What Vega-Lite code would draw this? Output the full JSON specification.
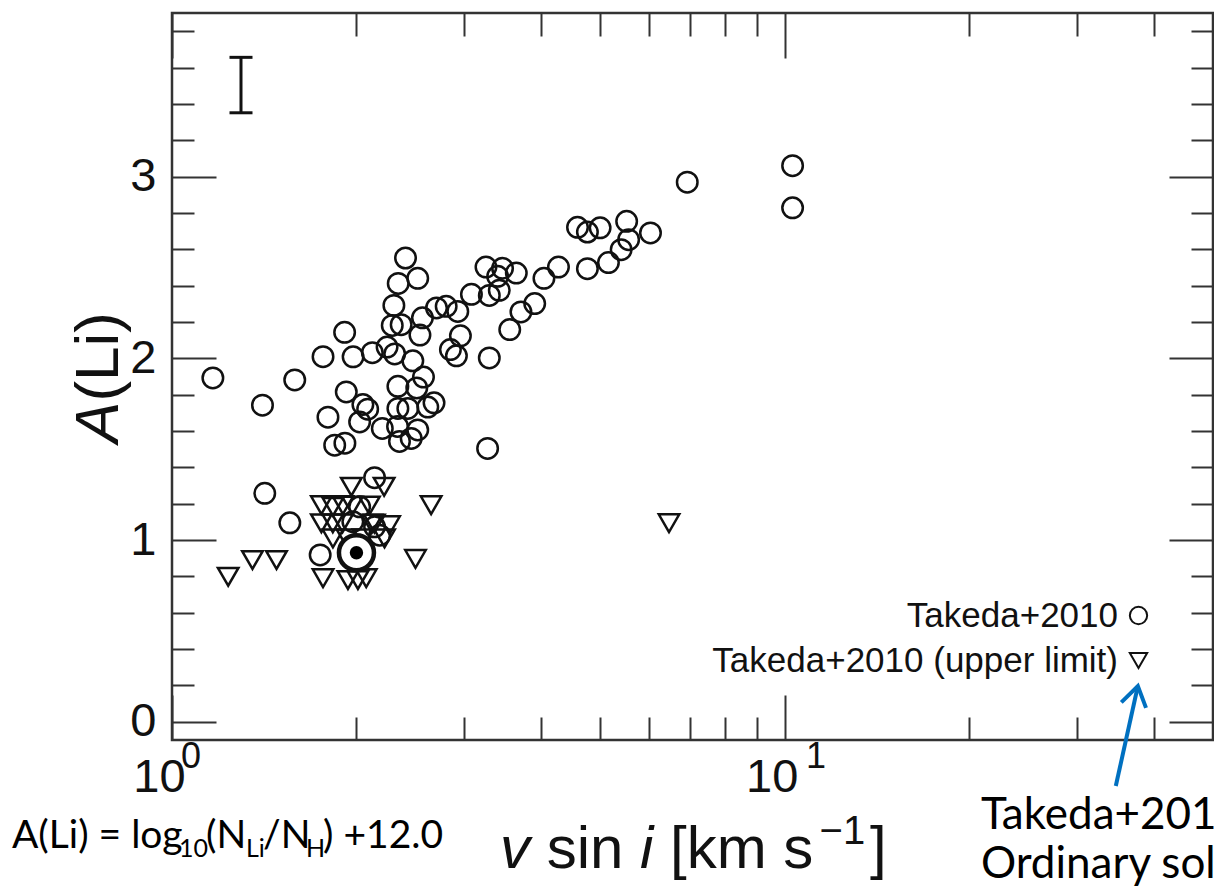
{
  "$schema": "https://vega.github.io/schema/vega-lite/v6.json",
  "width": 1041,
  "height": 727,
  "autosize": {"type": "none"},
  "padding": {"left": 172, "top": 13, "right": 1, "bottom": 146},
  "background": "white",
  "config": {
    "view": {"stroke": "#333", "strokeWidth": 2.5},
    "axis": {"grid": false, "domain": false}
  },
  "datasets": {
    "stars": [
      {"v": 1.166, "a": 1.892, "type": "Takeda+2010"},
      {"v": 1.405, "a": 1.742, "type": "Takeda+2010"},
      {"v": 1.586, "a": 1.881, "type": "Takeda+2010"},
      {"v": 1.417, "a": 1.257, "type": "Takeda+2010"},
      {"v": 1.557, "a": 1.095, "type": "Takeda+2010"},
      {"v": 1.764, "a": 2.009, "type": "Takeda+2010"},
      {"v": 1.913, "a": 2.143, "type": "Takeda+2010"},
      {"v": 1.797, "a": 1.676, "type": "Takeda+2010"},
      {"v": 1.843, "a": 1.522, "type": "Takeda+2010"},
      {"v": 1.915, "a": 1.533, "type": "Takeda+2010"},
      {"v": 1.925, "a": 1.815, "type": "Takeda+2010"},
      {"v": 1.975, "a": 2.008, "type": "Takeda+2010"},
      {"v": 2.123, "a": 2.031, "type": "Takeda+2010"},
      {"v": 2.049, "a": 1.746, "type": "Takeda+2010"},
      {"v": 2.086, "a": 1.72, "type": "Takeda+2010"},
      {"v": 2.024, "a": 1.65, "type": "Takeda+2010"},
      {"v": 2.244, "a": 2.062, "type": "Takeda+2010"},
      {"v": 2.309, "a": 2.024, "type": "Takeda+2010"},
      {"v": 2.472, "a": 1.986, "type": "Takeda+2010"},
      {"v": 2.405, "a": 2.552, "type": "Takeda+2010"},
      {"v": 2.518, "a": 2.44, "type": "Takeda+2010"},
      {"v": 2.34, "a": 2.412, "type": "Takeda+2010"},
      {"v": 2.302, "a": 2.291, "type": "Takeda+2010"},
      {"v": 2.288, "a": 2.181, "type": "Takeda+2010"},
      {"v": 2.366, "a": 2.185, "type": "Takeda+2010"},
      {"v": 2.563, "a": 2.223, "type": "Takeda+2010"},
      {"v": 2.539, "a": 2.128, "type": "Takeda+2010"},
      {"v": 2.573, "a": 1.897, "type": "Takeda+2010"},
      {"v": 2.337, "a": 1.846, "type": "Takeda+2010"},
      {"v": 2.509, "a": 1.837, "type": "Takeda+2010"},
      {"v": 2.337, "a": 1.724, "type": "Takeda+2010"},
      {"v": 2.426, "a": 1.724, "type": "Takeda+2010"},
      {"v": 2.677, "a": 1.755, "type": "Takeda+2010"},
      {"v": 2.615, "a": 1.732, "type": "Takeda+2010"},
      {"v": 2.204, "a": 1.614, "type": "Takeda+2010"},
      {"v": 2.334, "a": 1.625, "type": "Takeda+2010"},
      {"v": 2.518, "a": 1.606, "type": "Takeda+2010"},
      {"v": 2.351, "a": 1.543, "type": "Takeda+2010"},
      {"v": 2.457, "a": 1.559, "type": "Takeda+2010"},
      {"v": 2.702, "a": 2.277, "type": "Takeda+2010"},
      {"v": 2.802, "a": 2.286, "type": "Takeda+2010"},
      {"v": 2.927, "a": 2.258, "type": "Takeda+2010"},
      {"v": 3.081, "a": 2.352, "type": "Takeda+2010"},
      {"v": 3.295, "a": 2.346, "type": "Takeda+2010"},
      {"v": 3.421, "a": 2.374, "type": "Takeda+2010"},
      {"v": 3.254, "a": 2.502, "type": "Takeda+2010"},
      {"v": 3.463, "a": 2.495, "type": "Takeda+2010"},
      {"v": 3.4, "a": 2.451, "type": "Takeda+2010"},
      {"v": 3.647, "a": 2.469, "type": "Takeda+2010"},
      {"v": 4.046, "a": 2.44, "type": "Takeda+2010"},
      {"v": 4.273, "a": 2.502, "type": "Takeda+2010"},
      {"v": 2.956, "a": 2.124, "type": "Takeda+2010"},
      {"v": 2.847, "a": 2.048, "type": "Takeda+2010"},
      {"v": 2.912, "a": 2.014, "type": "Takeda+2010"},
      {"v": 3.295, "a": 2.002, "type": "Takeda+2010"},
      {"v": 3.558, "a": 2.158, "type": "Takeda+2010"},
      {"v": 3.711, "a": 2.255, "type": "Takeda+2010"},
      {"v": 3.908, "a": 2.301, "type": "Takeda+2010"},
      {"v": 3.274, "a": 1.504, "type": "Takeda+2010"},
      {"v": 4.59, "a": 2.721, "type": "Takeda+2010"},
      {"v": 4.764, "a": 2.695, "type": "Takeda+2010"},
      {"v": 4.997, "a": 2.718, "type": "Takeda+2010"},
      {"v": 5.521, "a": 2.754, "type": "Takeda+2010"},
      {"v": 6.038, "a": 2.69, "type": "Takeda+2010"},
      {"v": 5.562, "a": 2.653, "type": "Takeda+2010"},
      {"v": 5.408, "a": 2.598, "type": "Takeda+2010"},
      {"v": 5.156, "a": 2.527, "type": "Takeda+2010"},
      {"v": 4.764, "a": 2.493, "type": "Takeda+2010"},
      {"v": 6.933, "a": 2.969, "type": "Takeda+2010"},
      {"v": 10.3, "a": 3.06, "type": "Takeda+2010"},
      {"v": 10.3, "a": 2.828, "type": "Takeda+2010"},
      {"v": 2.141, "a": 1.343, "type": "Takeda+2010"},
      {"v": 2.024, "a": 1.183, "type": "Takeda+2010"},
      {"v": 1.973, "a": 1.101, "type": "Takeda+2010"},
      {"v": 2.141, "a": 1.073, "type": "Takeda+2010"},
      {"v": 2.182, "a": 1.027, "type": "Takeda+2010"},
      {"v": 1.745, "a": 0.918, "type": "Takeda+2010"},
      {"v": 1.235, "a": 0.798, "type": "Takeda+2010 (upper limit)"},
      {"v": 1.353, "a": 0.89, "type": "Takeda+2010 (upper limit)"},
      {"v": 1.481, "a": 0.89, "type": "Takeda+2010 (upper limit)"},
      {"v": 1.753, "a": 1.192, "type": "Takeda+2010 (upper limit)"},
      {"v": 1.831, "a": 1.183, "type": "Takeda+2010 (upper limit)"},
      {"v": 1.901, "a": 1.192, "type": "Takeda+2010 (upper limit)"},
      {"v": 1.962, "a": 1.293, "type": "Takeda+2010 (upper limit)"},
      {"v": 2.219, "a": 1.293, "type": "Takeda+2010 (upper limit)"},
      {"v": 1.753, "a": 1.092, "type": "Takeda+2010 (upper limit)"},
      {"v": 1.83, "a": 1.092, "type": "Takeda+2010 (upper limit)"},
      {"v": 1.898, "a": 1.092, "type": "Takeda+2010 (upper limit)"},
      {"v": 2.265, "a": 1.082, "type": "Takeda+2010 (upper limit)"},
      {"v": 1.831, "a": 1.009, "type": "Takeda+2010 (upper limit)"},
      {"v": 2.223, "a": 1.009, "type": "Takeda+2010 (upper limit)"},
      {"v": 1.764, "a": 0.79, "type": "Takeda+2010 (upper limit)"},
      {"v": 1.937, "a": 0.78, "type": "Takeda+2010 (upper limit)"},
      {"v": 2.011, "a": 0.78, "type": "Takeda+2010 (upper limit)"},
      {"v": 2.075, "a": 0.79, "type": "Takeda+2010 (upper limit)"},
      {"v": 2.497, "a": 0.896, "type": "Takeda+2010 (upper limit)"},
      {"v": 2.648, "a": 1.192, "type": "Takeda+2010 (upper limit)"},
      {"v": 6.474, "a": 1.093, "type": "Takeda+2010 (upper limit)"},
      {"v": 1.97, "a": 1.19, "type": "Takeda+2010 (upper limit)"},
      {"v": 2.1, "a": 1.19, "type": "Takeda+2010 (upper limit)"},
      {"v": 2.14, "a": 1.09, "type": "Takeda+2010 (upper limit)"},
      {"v": 1.93, "a": 1.01, "type": "Takeda+2010 (upper limit)"},
      {"v": 2.05, "a": 1.01, "type": "Takeda+2010 (upper limit)"},
      {"v": 2.12, "a": 1.09, "type": "Takeda+2010 (upper limit)"}
    ],
    "sun": [{"v": 2.0, "a": 0.93}],
    "errbar": [{"v": 1.296, "lo": 3.351, "hi": 3.656}],
    "supers": [
      {"v": 1.0344, "a": -0.255, "t": "0"},
      {"v": 10.834, "a": -0.255, "t": "1"}
    ],
    "xtitle_italic": [
      {"v": 3.43, "a": -0.804, "t": "v"},
      {"v": 5.805, "a": -0.804, "t": "i"}
    ],
    "xtitle_normal": [
      {"v": 4.089, "a": -0.804, "t": "sin"},
      {"v": 6.497, "a": -0.804, "t": "[km s"},
      {"v": 13.78, "a": -0.804, "t": "]"}
    ],
    "xtitle_sup": [
      {"v": 11.4, "a": -0.672, "t": "−1"}
    ],
    "ytitle_italic": [
      {"v": 0.8163, "a": 1.534, "t": "A"}
    ],
    "ytitle_normal": [
      {"v": 0.8163, "a": 1.762, "t": "(Li)"}
    ],
    "formula_main": [
      {"v": 0.548, "a": -0.694, "t": "A(Li) = log"},
      {"v": 1.1362, "a": -0.694, "t": "(N"},
      {"v": 1.4079, "a": -0.694, "t": "/N"},
      {"v": 1.7637, "a": -0.694, "t": ") +12.0"}
    ],
    "formula_sub": [
      {"v": 1.0266, "a": -0.744, "t": "10"},
      {"v": 1.3203, "a": -0.744, "t": "Li"},
      {"v": 1.6549, "a": -0.744, "t": "H"}
    ],
    "note": [
      {"v": 20.9, "a": -0.59, "t": "Takeda+2010"},
      {"v": 20.9, "a": -0.86, "t": "Ordinary solar-type stars"}
    ],
    "arrow": [{"v": 34.7, "a": -0.353, "v2": 37.7, "a2": 0.197}]
  },
  "resolve": {"axis": {"x": "independent", "y": "independent"}},
  "layer": [
    {
      "data": {"name": "stars"},
      "mark": {"type": "point", "filled": false, "size": 420, "strokeWidth": 2.5, "color": "#111", "opacity": 1},
      "encoding": {
        "x": {
          "field": "v", "type": "quantitative",
          "scale": {"type": "log", "domain": [1, 50], "nice": false},
          "axis": {
            "orient": "bottom",
            "values": [1, 2, 3, 4, 5, 6, 7, 8, 9, 10, 20, 30, 40],
            "tickSize": {"condition": {"test": "datum.value == 1 || datum.value == 10", "value": -45}, "value": -23},
            "tickWidth": 2, "tickColor": "#333",
            "labelExpr": "datum.value == 1 || datum.value == 10 ? '10' : ''",
            "labelFont": "Liberation Sans", "labelFontSize": 47, "labelColor": "#111",
            "labelPadding": 59, "labelOffset": -13, "labelFlush": false, "labelOverlap": false,
            "title": null
          }
        },
        "y": {
          "field": "a", "type": "quantitative",
          "scale": {"domain": [-0.1, 3.9], "nice": false, "zero": false},
          "axis": {
            "orient": "left",
            "values": [0, 0.2, 0.4, 0.6, 0.8, 1, 1.2, 1.4, 1.6, 1.8, 2, 2.2, 2.4, 2.6, 2.8, 3, 3.2, 3.4, 3.6, 3.8],
            "tickSize": {"condition": {"test": "abs(datum.value - round(datum.value)) < 0.01", "value": -44}, "value": -22},
            "tickWidth": 2, "tickColor": "#333",
            "labelExpr": "abs(datum.value - round(datum.value)) < 0.01 ? format(datum.value, 'd') : ''",
            "labelFont": "Liberation Sans", "labelFontSize": 47, "labelColor": "#111",
            "labelPadding": 60, "labelFlush": false, "labelOverlap": false,
            "title": null
          }
        },
        "shape": {
          "field": "type", "type": "nominal",
          "scale": {"domain": ["Takeda+2010", "Takeda+2010 (upper limit)"], "range": ["circle", "triangle-down"]},
          "legend": {
            "title": null, "orient": "bottom-right", "offset": 61, "direction": "vertical",
            "labelFont": "Liberation Sans", "labelFontSize": 35, "labelColor": "#111",
            "labelAlign": "right", "labelOffset": -38, "labelLimit": 800,
            "symbolSize": 300, "symbolStrokeWidth": 2, "symbolStrokeColor": "#111", "symbolFillColor": "transparent",
            "rowPadding": 9, "padding": 0
          }
        }
      }
    },
    {
      "data": {"name": "sun"},
      "mark": {"type": "point", "shape": "circle", "size": 1225, "filled": true, "fill": "white", "stroke": "#111", "strokeWidth": 4.5, "opacity": 1},
      "encoding": {
        "x": {
          "field": "v", "type": "quantitative",
          "axis": {
            "orient": "top",
            "values": [1, 2, 3, 4, 5, 6, 7, 8, 9, 10, 20, 30, 40],
            "tickSize": {"condition": {"test": "datum.value == 1 || datum.value == 10", "value": -45}, "value": -23},
            "tickWidth": 2, "tickColor": "#333", "labels": false, "title": null
          }
        },
        "y": {
          "field": "a", "type": "quantitative",
          "axis": {
            "orient": "right",
            "values": [0, 0.2, 0.4, 0.6, 0.8, 1, 1.2, 1.4, 1.6, 1.8, 2, 2.2, 2.4, 2.6, 2.8, 3, 3.2, 3.4, 3.6, 3.8],
            "tickSize": {"condition": {"test": "abs(datum.value - round(datum.value)) < 0.01", "value": -44}, "value": -22},
            "tickWidth": 2, "tickColor": "#333", "labels": false, "title": null
          }
        }
      }
    },
    {
      "data": {"name": "sun"},
      "mark": {"type": "point", "shape": "circle", "size": 180, "filled": true, "color": "#000", "opacity": 1},
      "encoding": {
        "x": {"field": "v", "type": "quantitative", "axis": null},
        "y": {"field": "a", "type": "quantitative", "axis": null}
      }
    },
    {
      "data": {"name": "errbar"},
      "mark": {"type": "rule", "color": "#111", "strokeWidth": 3},
      "encoding": {
        "x": {"field": "v", "type": "quantitative", "axis": null},
        "y": {"field": "lo", "type": "quantitative", "axis": null},
        "y2": {"field": "hi"}
      }
    },
    {
      "data": {"name": "errbar"},
      "mark": {"type": "tick", "orient": "horizontal", "size": 23, "thickness": 3, "color": "#111", "opacity": 1},
      "encoding": {
        "x": {"field": "v", "type": "quantitative", "axis": null},
        "y": {"field": "lo", "type": "quantitative", "axis": null}
      }
    },
    {
      "data": {"name": "errbar"},
      "mark": {"type": "tick", "orient": "horizontal", "size": 23, "thickness": 3, "color": "#111", "opacity": 1},
      "encoding": {
        "x": {"field": "v", "type": "quantitative", "axis": null},
        "y": {"field": "hi", "type": "quantitative", "axis": null}
      }
    },
    {
      "data": {"name": "supers"},
      "mark": {"type": "text", "font": "Liberation Sans", "fontSize": 36, "align": "left", "baseline": "alphabetic", "color": "#111"},
      "encoding": {
        "x": {"field": "v", "type": "quantitative", "axis": null},
        "y": {"field": "a", "type": "quantitative", "axis": null},
        "text": {"field": "t"}
      }
    },
    {
      "data": {"name": "xtitle_italic"},
      "mark": {"type": "text", "font": "Liberation Sans", "fontStyle": "italic", "fontSize": 60, "align": "left", "baseline": "alphabetic", "color": "#111"},
      "encoding": {
        "x": {"field": "v", "type": "quantitative", "axis": null},
        "y": {"field": "a", "type": "quantitative", "axis": null},
        "text": {"field": "t"}
      }
    },
    {
      "data": {"name": "xtitle_normal"},
      "mark": {"type": "text", "font": "Liberation Sans", "fontSize": 60, "align": "left", "baseline": "alphabetic", "color": "#111"},
      "encoding": {
        "x": {"field": "v", "type": "quantitative", "axis": null},
        "y": {"field": "a", "type": "quantitative", "axis": null},
        "text": {"field": "t"}
      }
    },
    {
      "data": {"name": "xtitle_sup"},
      "mark": {"type": "text", "font": "Liberation Sans", "fontSize": 40, "align": "left", "baseline": "alphabetic", "color": "#111"},
      "encoding": {
        "x": {"field": "v", "type": "quantitative", "axis": null},
        "y": {"field": "a", "type": "quantitative", "axis": null},
        "text": {"field": "t"}
      }
    },
    {
      "data": {"name": "ytitle_italic"},
      "mark": {"type": "text", "font": "Liberation Sans", "fontStyle": "italic", "fontSize": 62, "angle": 270, "align": "left", "baseline": "alphabetic", "color": "#111"},
      "encoding": {
        "x": {"field": "v", "type": "quantitative", "axis": null},
        "y": {"field": "a", "type": "quantitative", "axis": null},
        "text": {"field": "t"}
      }
    },
    {
      "data": {"name": "ytitle_normal"},
      "mark": {"type": "text", "font": "Liberation Sans", "fontSize": 62, "angle": 270, "align": "left", "baseline": "alphabetic", "color": "#111"},
      "encoding": {
        "x": {"field": "v", "type": "quantitative", "axis": null},
        "y": {"field": "a", "type": "quantitative", "axis": null},
        "text": {"field": "t"}
      }
    },
    {
      "data": {"name": "formula_main"},
      "mark": {"type": "text", "font": "Lato", "fontSize": 39, "align": "left", "baseline": "alphabetic", "color": "#000"},
      "encoding": {
        "x": {"field": "v", "type": "quantitative", "axis": null},
        "y": {"field": "a", "type": "quantitative", "axis": null},
        "text": {"field": "t"}
      }
    },
    {
      "data": {"name": "formula_sub"},
      "mark": {"type": "text", "font": "Lato", "fontSize": 25, "align": "left", "baseline": "alphabetic", "color": "#000"},
      "encoding": {
        "x": {"field": "v", "type": "quantitative", "axis": null},
        "y": {"field": "a", "type": "quantitative", "axis": null},
        "text": {"field": "t"}
      }
    },
    {
      "data": {"name": "note"},
      "mark": {"type": "text", "font": "Lato", "fontSize": 44, "align": "left", "baseline": "alphabetic", "color": "#000"},
      "encoding": {
        "x": {"field": "v", "type": "quantitative", "axis": null},
        "y": {"field": "a", "type": "quantitative", "axis": null},
        "text": {"field": "t"}
      }
    },
    {
      "data": {"name": "arrow"},
      "mark": {"type": "rule", "color": "#0070C0", "strokeWidth": 4},
      "encoding": {
        "x": {"field": "v", "type": "quantitative", "axis": null},
        "y": {"field": "a", "type": "quantitative", "axis": null},
        "x2": {"field": "v2"},
        "y2": {"field": "a2"}
      }
    },
    {
      "data": {"name": "arrow"},
      "mark": {"type": "point", "shape": "M -0.55 0.85 L 0 0 L 0.55 0.85", "angle": 12.4, "size": 2116, "filled": false, "stroke": "#0070C0", "strokeWidth": 4, "opacity": 1},
      "encoding": {
        "x": {"field": "v2", "type": "quantitative", "axis": null},
        "y": {"field": "a2", "type": "quantitative", "axis": null}
      }
    }
  ]
}
